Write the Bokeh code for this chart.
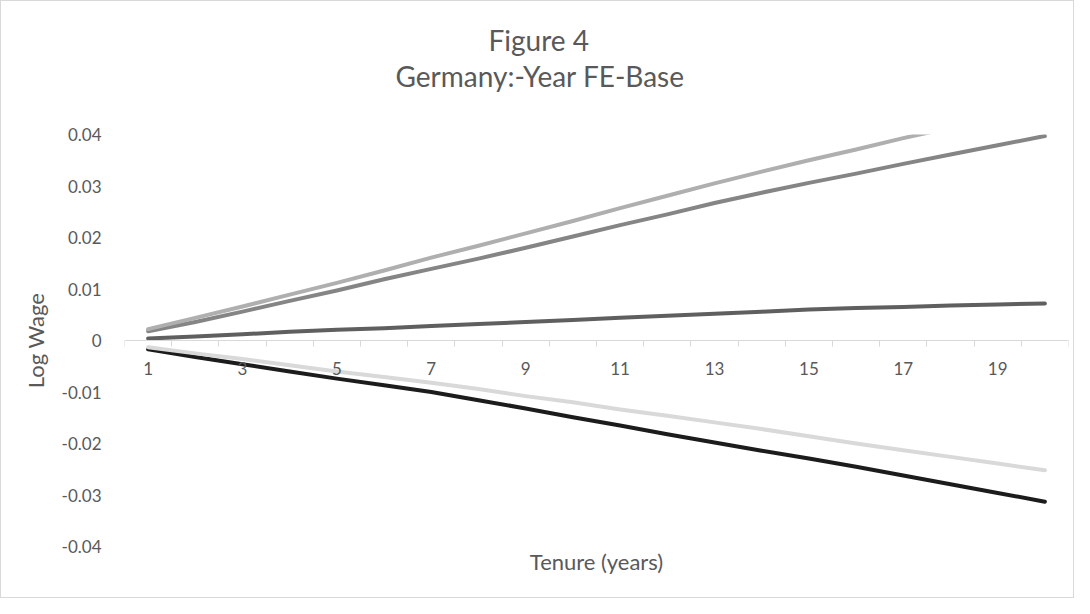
from bokeh.plotting import figure
from bokeh.models import Range1d, FixedTicker, CustomJSTickFormatter, Title, LinearAxis
from bokeh.embed import file_html
from bokeh.resources import INLINE

# ---- data ----
tenure = [1, 2, 3, 4, 5, 6, 7, 8, 9, 10, 11, 12, 13, 14, 15, 16, 17, 18, 19, 20]
x_tick_labels = [1, 3, 5, 7, 9, 11, 13, 15, 17, 19]
y_ticks = [-0.04, -0.03, -0.02, -0.01, 0.0, 0.01, 0.02, 0.03, 0.04]

series_a = [0.0022, 0.0044, 0.0066, 0.0089, 0.0112, 0.0136, 0.0161, 0.0184, 0.0208, 0.0232,
            0.0257, 0.0281, 0.0305, 0.0328, 0.0350, 0.0371, 0.0393, 0.0413, 0.0433, 0.0453]
series_b = [0.0018, 0.0036, 0.0056, 0.0077, 0.0097, 0.0119, 0.0139, 0.0159, 0.0180, 0.0202,
            0.0224, 0.0245, 0.0267, 0.0287, 0.0306, 0.0324, 0.0343, 0.0361, 0.0379, 0.0397]
series_c = [0.0004, 0.0008, 0.0012, 0.0017, 0.0021, 0.0024, 0.0028, 0.0032, 0.0036, 0.0040,
            0.0044, 0.0048, 0.0052, 0.0056, 0.0060, 0.0063, 0.0065, 0.0068, 0.0070, 0.0072]
series_d = [-0.0013, -0.0025, -0.0036, -0.0048, -0.0060, -0.0071, -0.0082, -0.0094, -0.0108, -0.0120,
            -0.0134, -0.0146, -0.0159, -0.0172, -0.0186, -0.0200, -0.0213, -0.0226, -0.0239, -0.0252]
series_e = [-0.0017, -0.0032, -0.0046, -0.0060, -0.0074, -0.0087, -0.0100, -0.0116, -0.0132, -0.0149,
            -0.0165, -0.0182, -0.0198, -0.0214, -0.0229, -0.0245, -0.0262, -0.0279, -0.0296, -0.0313]

series = [series_e, series_d, series_c, series_b, series_a]
colors = ["#1c1c1c", "#d9d9d9", "#5f5f5f", "#858585", "#afafaf"]

title_line1 = "Figure 4"
title_line2 = "Germany:-Year FE-Base"
x_title = "Tenure (years)"
y_title = "Log Wage"

FONT = "Lato"
TXT = "#595959"

p = figure(width=1074, height=598, output_backend="svg", toolbar_location=None,
           x_range=Range1d(0.5, 20.5), y_range=Range1d(-0.04, 0.04),
           min_border_left=123, min_border_right=7, min_border_top=133, min_border_bottom=53,
           title=None)
p.styles = {"border": "1px solid #d9d9d9"}
p.outline_line_color = None
p.xgrid.visible = False
p.ygrid.visible = False

for vals, col in zip(series, colors):
    p.line(tenure, vals, line_color=col, line_width=4, line_cap="round", line_join="round")

# x axis crossing at zero
xa = p.xaxis[0]
xa.fixed_location = 0
xa.ticker = FixedTicker(ticks=x_tick_labels, minor_ticks=[i + 0.5 for i in range(0, 21)])
xa.axis_line_color = "#d9d9d9"
xa.axis_line_width = 1
xa.major_tick_line_color = None
xa.major_tick_out = 0
xa.major_tick_in = 0
xa.minor_tick_line_color = "#d9d9d9"
xa.minor_tick_out = 6
xa.minor_tick_in = 0
xa.major_label_standoff = 15
xa.major_label_text_font = FONT
xa.major_label_text_font_size = "17px"
xa.major_label_text_color = TXT

ya = p.yaxis[0]
ya.ticker = FixedTicker(ticks=y_ticks)
ya.formatter = CustomJSTickFormatter(code="return Math.abs(tick) < 1e-9 ? '0' : tick.toFixed(2);")
ya.axis_line_color = None
ya.major_tick_line_color = None
ya.minor_tick_line_color = None
ya.major_tick_out = 0
ya.major_label_standoff = 23
ya.major_label_text_font = FONT
ya.major_label_text_font_size = "17px"
ya.major_label_text_color = TXT
ya.axis_label = y_title
ya.axis_label_standoff = 10
ya.axis_label_text_font = FONT
ya.axis_label_text_font_size = "22px"
ya.axis_label_text_font_style = "normal"
ya.axis_label_text_color = TXT

# invisible spacer between the frame and the chart titles
spacer = LinearAxis(ticker=FixedTicker(ticks=[10]), major_label_overrides={10: ""},
                    axis_line_alpha=0, major_tick_line_alpha=0, minor_tick_line_alpha=0,
                    major_tick_out=41, major_tick_in=0, minor_tick_out=0, minor_tick_in=0,
                    major_label_standoff=0)
p.add_layout(spacer, "above")

t2 = Title(text=title_line2, align="left", offset=271, vertical_align="middle", standoff=0,
           text_font=FONT, text_font_size="28px", text_font_style="normal", text_color=TXT)
t1 = Title(text=title_line1, align="left", offset=364, vertical_align="middle", standoff=0,
           text_font=FONT, text_font_size="28px", text_font_style="normal", text_color=TXT)
p.add_layout(t2, "above")
p.add_layout(t1, "above")

tx = Title(text=x_title, align="center", vertical_align="middle", standoff=0,
           text_font=FONT, text_font_size="22px", text_font_style="normal", text_color=TXT)
p.add_layout(tx, "below")

open("out.html", "w").write(file_html(p, INLINE))
